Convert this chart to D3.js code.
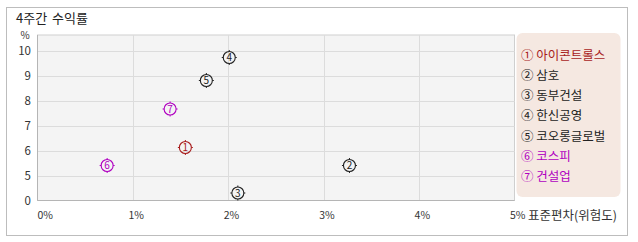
<!DOCTYPE html>
<html><head><meta charset="utf-8">
<script src="https://cdn.jsdelivr.net/npm/d3@7/dist/d3.min.js"></script>
<style>
html,body{margin:0;padding:0;background:#fff;}
svg{display:block;font-family:"Noto Sans CJK KR","Noto Sans",sans-serif;}
</style></head><body>
<svg id="c" width="638" height="242"></svg>
<script>
const names = ["아이콘트롤스","삼호","동부건설","한신공영","코오롱글로벌","코스피","건설업"];
const marks = ["①","②","③","④","⑤","⑥","⑦"];
const risk = [1.55, 3.27, 2.10, 2.01, 1.77, 0.73, 1.39];
const returns = [6.12, 5.4, 1.5, 9.72, 8.8, 5.4, 7.66];
const groups = ["focus","stock","stock","stock","stock","index","index"];
const xTicks = [0,1,2,3,4,5];
const yTicks = [0,5,6,7,8,9,10];
const title = "4주간 수익률";
const xTitle = "표준편차(위험도)";

const colorOf = {focus:"#a81c1c", stock:"#222", index:"#b000c0"};
const svg = d3.select("#c");

// outer frame
svg.append("rect").attr("x",6.5).attr("y",7.5).attr("width",621).attr("height",228)
  .attr("fill","#fff").attr("stroke","#bdbdbd");
svg.append("text").attr("x",16).attr("y",23).attr("font-size",13).attr("word-spacing",2).attr("fill","#222").text(title);

const L=37.5, R=514.5, T=35, B=200.5;
const x = d3.scaleLinear().domain([0,5]).range([L,R]);
const y = d3.scaleLinear().domain([0,5,10]).range([B,175.5,50.5]);

svg.append("rect").attr("x",L).attr("y",T).attr("width",R-L).attr("height",B-T)
  .attr("fill","#f4f4f4").attr("stroke","#cfcfcf");
// gridlines
svg.append("g").selectAll("line").data(xTicks.slice(1,-1)).join("line")
  .attr("x1",d=>Math.round(x(d))+0.5).attr("x2",d=>Math.round(x(d))+0.5).attr("y1",T).attr("y2",B)
  .attr("stroke","#dcdcdc");
svg.append("g").selectAll("line").data(yTicks.slice(1)).join("line")
  .attr("x1",L).attr("x2",R).attr("y1",d=>Math.round(y(d))+0.5).attr("y2",d=>Math.round(y(d))+0.5)
  .attr("stroke","#dcdcdc");
// axes lines
svg.append("line").attr("x1",L).attr("x2",L).attr("y1",T).attr("y2",B).attr("stroke","#b5b5b5");
svg.append("line").attr("x1",L).attr("x2",R).attr("y1",B).attr("y2",B).attr("stroke","#b5b5b5");

// y labels
svg.append("g").selectAll("text").data(yTicks).join("text")
  .attr("x",31).attr("y",d=>y(d)+4.5).attr("text-anchor","end").attr("font-size",11.5).attr("fill","#333")
  .text(d=>d);
svg.append("text").attr("x",25).attr("y",39).attr("text-anchor","middle").attr("font-size",10).attr("fill","#333").text("%");
// x labels
svg.append("g").selectAll("text").data(xTicks).join("text")
  .attr("x",d=>Math.max(L, x(d)-4.5)).attr("y",219).attr("font-size",10.5).attr("fill","#333")
  .text(d=>d+"%");
svg.append("text").attr("x",528).attr("y",220).attr("font-size",12.5).attr("fill","#333").text(xTitle);

// points
const pts = svg.append("g").selectAll("g").data(names.map((n,i)=>i)).join("g")
  .attr("transform",i=>`translate(${x(risk[i])},${y(returns[i])})`);
pts.append("circle").attr("r",6).attr("fill","none").attr("stroke",i=>colorOf[groups[i]]).attr("stroke-width",1.1);
pts.each(function(i){
  const g=d3.select(this), c=colorOf[groups[i]];
  [[0,-6,0,-7.5],[0,6,0,7.5],[-6,0,-7.5,0],[6,0,7.5,0]].forEach(s=>
    g.append("line").attr("x1",s[0]).attr("y1",s[1]).attr("x2",s[2]).attr("y2",s[3]).attr("stroke",c));
});
pts.append("text").attr("text-anchor","middle").attr("y",3.8).attr("font-size",10)
  .attr("fill",i=>colorOf[groups[i]]).text(i=>i+1);

// legend
svg.append("rect").attr("x",516.5).attr("y",33).attr("width",104).attr("height",164).attr("rx",6)
  .attr("fill","#f5e8e1");
svg.append("g").selectAll("text").data(names.map((n,i)=>i)).join("text")
  .attr("x",521).attr("y",i=>59.5+i*20.3).attr("font-size",12.5)
  .attr("fill",i=>colorOf[groups[i]]).text(i=>marks[i]+" "+names[i]);
</script>
</body></html>
